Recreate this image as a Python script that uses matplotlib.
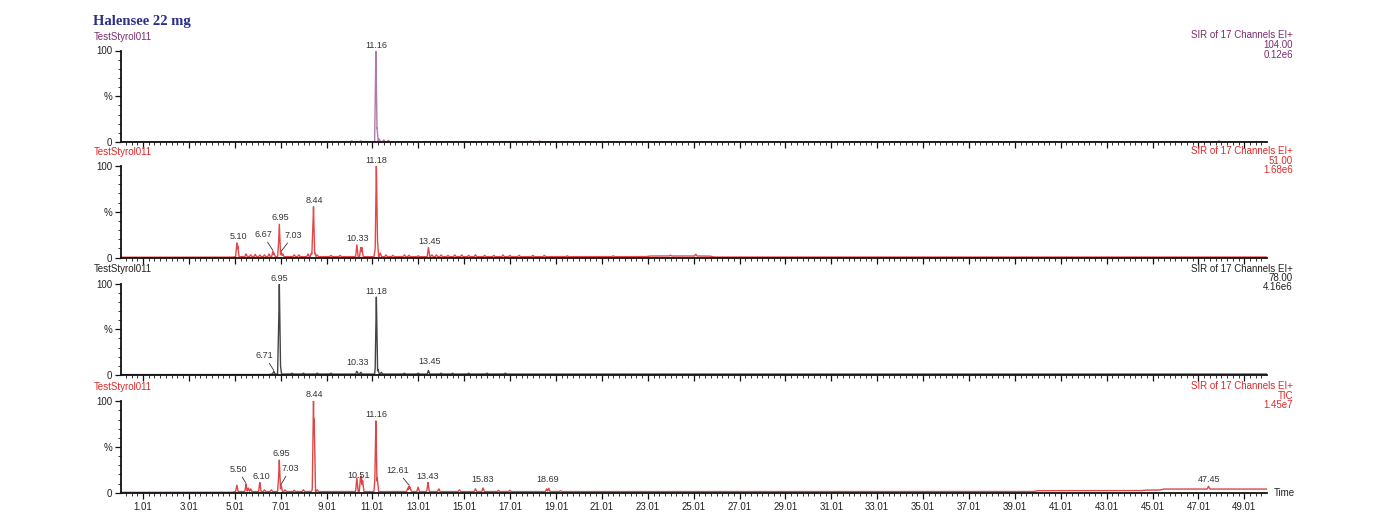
import numpy as np
import matplotlib.pyplot as plt
from matplotlib.ticker import FixedLocator, MultipleLocator

plt.rcParams['font.family'] = ['Liberation Sans', 'DejaVu Sans']

# ---- data (retention time in min, intensity in %) ----
sample_name = "TestStyrol011"
title = "Halensee 22 mg"

# channel 104.00 (purple)
ch104_peak_t = [10.1, 10.5, 11.16, 11.21, 11.3, 11.5, 11.7, 17.9, 18.3, 47.9]
ch104_peak_h = [1.0, 1.0, 100, 15, 3, 2, 1.5, 0.8, 0.8, 1.0]
ch104_base_t = [0, 50]
ch104_base_v = [0.3, 0.3]

# channel 51.00 (red)
ch51_peak_t = [5.10, 5.14, 5.5, 5.7, 5.9, 6.1, 6.3, 6.5, 6.67, 6.72, 6.93, 6.95, 7.03, 7.1,
               7.6, 7.8, 8.2, 8.35, 8.42, 8.44, 8.5, 8.6, 9.2, 9.6, 10.33, 10.50, 10.55,
               11.13, 11.18, 11.22, 11.35, 11.6, 11.9, 12.4, 12.6, 13.0, 13.45, 13.6, 13.8,
               14.0, 14.3, 14.6, 14.9, 15.2, 15.5, 15.9, 16.3, 16.7, 17.0, 17.4, 18.0,
               18.5, 19.5, 21.5, 24.0, 25.1]
ch51_peak_h = [15, 12, 3, 2, 2.5, 2, 2, 3, 6, 4, 18, 36, 5, 3,
               2, 2, 3, 4, 36, 55, 4, 2, 1.5, 1.5, 13, 10, 10,
               9, 100, 22, 4, 2, 1.5, 2, 1.5, 1, 10, 2, 2,
               2, 1.5, 2, 2, 1.5, 2, 1.5, 1.5, 2, 1.5, 1.5, 1.5,
               1.5, 1.0, 1.0, 1.0, 2.0]
ch51_base_t = [0, 4.9, 5.0, 22.9, 23.1, 25.7, 25.9, 50]
ch51_base_v = [0.3, 0.3, 0.9, 0.9, 1.6, 1.6, 0.5, 0.5]

# channel 78.00 (black)
ch78_peak_t = [6.71, 6.93, 6.95, 6.99, 7.5, 8.0, 8.6, 9.2, 10.33, 10.5, 11.16, 11.18, 11.25,
               11.4, 12.4, 13.0, 13.45, 14.0, 14.5, 15.2, 16.0, 16.8]
ch78_peak_h = [3, 60, 100, 12, 1, 1, 1, 1, 3, 2, 15, 85, 5,
               2, 1, 1, 4, 1, 1, 1, 1, 1]
ch78_base_t = [0, 6.5, 6.6, 50]
ch78_base_v = [0.4, 0.4, 1.0, 1.0]

# TIC (red)
tic_peak_t = [5.10, 5.50, 5.6, 5.7, 6.10, 6.3, 6.6, 6.93, 6.95, 7.03, 7.2, 7.6, 8.0, 8.4,
              8.44, 8.47, 8.6, 10.33, 10.49, 10.53, 10.58, 11.13, 11.16, 11.22, 12.55,
              12.61, 12.65, 13.0, 13.43, 13.9, 14.8, 15.5, 15.83, 16.5, 17.0, 18.6, 18.69,
              19.2, 47.45]
tic_peak_h = [7, 8, 4, 3, 10, 2, 2, 18, 35, 7, 2, 1.5, 2, 3,
              100, 80, 2, 15, 16, 17, 12, 17, 78, 15, 4,
              6, 5, 5, 10, 3, 2, 3, 4, 1.5, 1.5, 3, 3.5,
              1, 3]
tic_base_t = [0, 4.9, 5.0, 39.8, 40.0, 44.5, 44.7, 45.3, 45.5, 50]
tic_base_v = [0.4, 0.4, 1.2, 1.2, 2.2, 2.2, 2.8, 2.8, 4.0, 4.0]

# labelled peaks: (time, text, dx px, dy px, leader)
ch104_labels = [(11.16, "11.16", 0, 0, False)]
ch51_labels = [(5.10, "5.10", 2, 0, False), (6.67, "6.67", -10, 8, True),
               (6.95, "6.95", 1, 0, False), (7.03, "7.03", 12, 8, True),
               (8.44, "8.44", 1, 0, False), (10.33, "10.33", 1, 0, False),
               (11.18, "11.18", 0, 0, False), (13.45, "13.45", 1, 0, False)]
ch78_labels = [(6.71, "6.71", -9, 7, True), (6.95, "6.95", 0, 0, False),
               (10.33, "10.33", 1, 2, False), (11.18, "11.18", 0, 0, False),
               (13.45, "13.45", 1, 2, False)]
tic_labels = [(5.50, "5.50", -8, 6, True), (6.10, "6.10", 2, 0, False),
              (6.95, "6.95", 2, 0, False), (7.03, "7.03", 9, 8, True),
              (8.44, "8.44", 1, 0, False), (10.51, "10.51", -2, 0, False),
              (11.16, "11.16", 0, 0, False), (12.61, "12.61", -12, 7, True),
              (13.43, "13.43", 0, 0, False), (15.83, "15.83", 0, 2, False),
              (18.69, "18.69", -1, 2, False), (47.45, "47.45", 1, 0, False)]

panels = [
    dict(pt=ch104_peak_t, ph=ch104_peak_h, bt=ch104_base_t, bv=ch104_base_v, labels=ch104_labels,
         line='#b07ba8', text='#7b2d6e', info=["SIR of 17 Channels EI+", "104.00", "0.12e6"]),
    dict(pt=ch51_peak_t, ph=ch51_peak_h, bt=ch51_base_t, bv=ch51_base_v, labels=ch51_labels,
         line='#e34848', text='#e02828', info=["SIR of 17 Channels EI+", "51.00", "1.68e6"]),
    dict(pt=ch78_peak_t, ph=ch78_peak_h, bt=ch78_base_t, bv=ch78_base_v, labels=ch78_labels,
         line='#444444', text='#222222', info=["SIR of 17 Channels EI+", "78.00", "4.16e6"]),
    dict(pt=tic_peak_t, ph=tic_peak_h, bt=tic_base_t, bv=tic_base_v, labels=tic_labels,
         line='#dc4646', text='#e02828', info=["SIR of 17 Channels EI+", "TIC", "1.45e7"]),
]

t = np.linspace(0.05, 50.0, 20000)
half_width = 0.055


def build_trace(pt, ph, bt, bv):
    base = np.interp(t, bt, bv)
    bump = np.zeros_like(t)
    for p, h in zip(pt, ph):
        bump = np.maximum(bump, np.clip(1 - np.abs(t - p) / half_width, 0, None) * h)
    return base + bump


fig = plt.figure(figsize=(13.95, 5.22), dpi=100)
W, H = 1395.0, 522.0
left, right = 121 / W, 1267 / W
zero_px = [142, 257.5, 375, 492.7]
span_px = 91.5

fig.text(93 / W, 1 - 22 / H, title, family='Liberation Serif', fontweight='bold',
         fontsize=10.5, color='#2a2f8a', va='center', ha='left')

for i, p in enumerate(panels):
    bottom = 1 - zero_px[i] / H
    ax = fig.add_axes([left, bottom, right - left, span_px / H])
    y = build_trace(p['pt'], p['ph'], p['bt'], p['bv'])
    ax.plot(t, y, color=p['line'], lw=1.0)
    ax.set_xlim(0.05, 50.0)
    ax.set_ylim(0, 100)

    for s in ['top', 'right']:
        ax.spines[s].set_visible(False)
    for s in ['left', 'bottom']:
        ax.spines[s].set_linewidth(1.3)
        ax.spines[s].set_color('#111111')

    ax.xaxis.set_major_locator(FixedLocator(np.arange(1.01, 50, 2)))
    ax.xaxis.set_minor_locator(FixedLocator(np.arange(0.26, 50, 0.25)))
    ax.yaxis.set_major_locator(FixedLocator([0, 50, 100]))
    ax.yaxis.set_minor_locator(MultipleLocator(10))
    ax.set_yticklabels(['0', '%', '100'])
    ax.tick_params(axis='both', which='major', direction='out', length=4.5, width=0.9,
                   color='#111111', labelsize=7, pad=2, labelcolor='#222222')
    ax.tick_params(axis='both', which='minor', direction='out', length=2.2, width=0.6,
                   color='#111111')
    if i < 3:
        ax.set_xticklabels([])
    else:
        ax.set_xticklabels([f"{v:.2f}" for v in np.arange(1.01, 50, 2)])
        ax.text(1.006, 0.0, "Time", transform=ax.transAxes, fontsize=7, color='#222222',
                ha='left', va='center')

    # sample name and channel info
    top_px = zero_px[i] - span_px
    fig.text(94 / W, 1 - (top_px - 14) / H, sample_name, fontsize=7, color=p['text'],
             ha='left', va='center')
    for k, line in enumerate(p['info']):
        fig.text(1293 / W, 1 - (top_px - 15 + 9.5 * k) / H, line, fontsize=7,
                 color=p['text'], ha='right', va='center')

    # peak labels
    for pt_, txt, dx, dy, leader in p['labels']:
        h = np.interp(pt_, t, y)
        if leader:
            ax.annotate(txt, xy=(pt_, h + 1), xytext=(dx, dy + 3), textcoords='offset pixels',
                        ha='center', va='bottom', fontsize=6.5, color='#333333',
                        arrowprops=dict(arrowstyle='-', lw=0.6, color='#333333',
                                        shrinkA=0, shrinkB=0))
        else:
            ax.annotate(txt, xy=(pt_, h), xytext=(dx, dy + 2), textcoords='offset pixels',
                        ha='center', va='bottom', fontsize=6.5, color='#333333',
                        annotation_clip=False)

fig.savefig("out.png", dpi=100)
